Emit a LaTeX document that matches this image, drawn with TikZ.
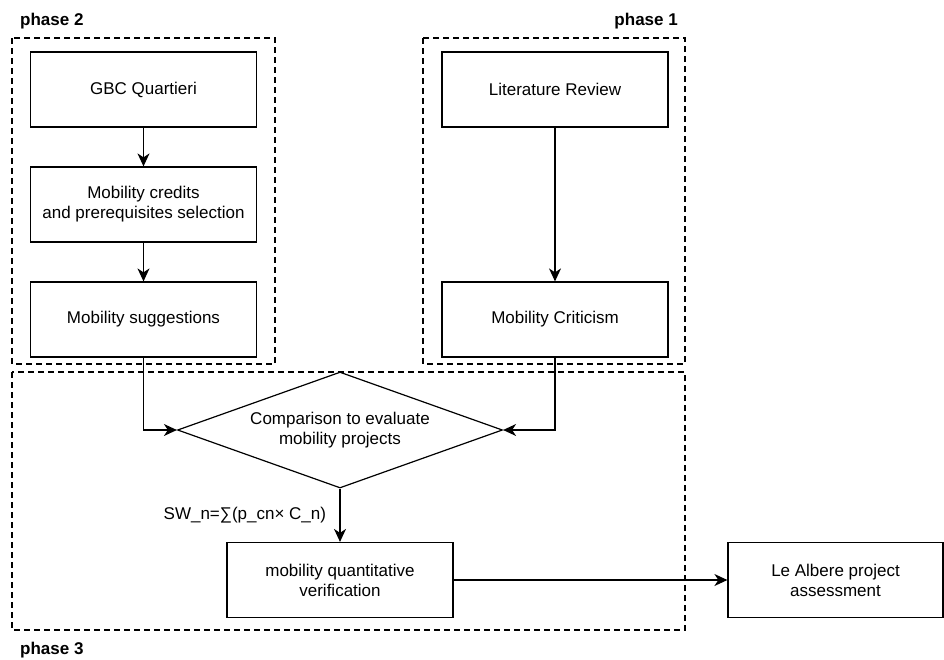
\documentclass[tikz,border=0pt]{standalone}
\usepackage{fontspec}
\setmainfont{Liberation Sans}
\usetikzlibrary{shapes.geometric,arrows.meta}
\newcommand{\diagfont}{\fontsize{17}{20}\selectfont}
\begin{document}
\begin{tikzpicture}[x=1pt,y=-1pt,
  every node/.style={font=\diagfont},
  blk/.style={draw, line width=1.2pt, minimum width=226pt, minimum height=75pt, align=center, inner sep=0pt},
  grp/.style={draw, line width=1.1pt, dash pattern=on 6pt off 4pt},
  lbl/.style={font=\diagfont\bfseries, inner sep=0pt},
  arr/.style={line width=1.2pt, -{Stealth[length=13pt,width=12pt,inset=4pt]}}]
\useasboundingbox (0,0) rectangle (944,659);
% phase frames
\draw[grp] (12,38) rectangle (275,364);
\draw[grp] (423,38) rectangle (685,364);
\draw[grp] (12,372) rectangle (685,630);
\node[lbl, anchor=west] (ph2) at (20,21) {phase 2};
\node[lbl, anchor=east] (ph1) at (678,21) {phase 1};
\node[lbl, anchor=west] (ph3) at (20,650) {phase 3};
% phase 2
\node[blk] (gbc) at (143.5,89.5) {GBC Quartieri};
\node[blk] (cred) at (143.5,204.5) {Mobility credits\\and prerequisites selection};
\node[blk] (sugg) at (143.5,319.5) {Mobility suggestions};
% phase 1
\node[blk] (lit) at (555,89.5) {Literature Review};
\node[blk] (crit) at (555,319.5) {Mobility Criticism};
% phase 3
\node[draw, diamond, line width=1.2pt, aspect=2.8, inner sep=0pt, minimum width=325pt, minimum height=116pt, align=center] (cmp) at (340,430) {\raisebox{-3pt}{\begin{tabular}{@{}c@{}}Comparison to evaluate\\mobility projects\end{tabular}}};
\node[blk] (verif) at (340,580) {mobility quantitative\\verification};
\node[blk, minimum width=215pt] (alb) at (835.5,580) {Le Albere project\\assessment};
\draw[arr] (gbc) -- (cred);
\draw[arr] (cred) -- (sugg);
\draw[arr] (lit) -- (crit);
\draw[arr] (sugg.south) |- (cmp.west);
\draw[arr] (crit.south) |- (cmp.east);
\draw[arr] (cmp.south) -- node[midway, left=10pt] {SW\_n=∑(p\_cn× C\_n)} (verif.north);
\draw[arr] (verif) -- (alb);
\end{tikzpicture}
\end{document}
